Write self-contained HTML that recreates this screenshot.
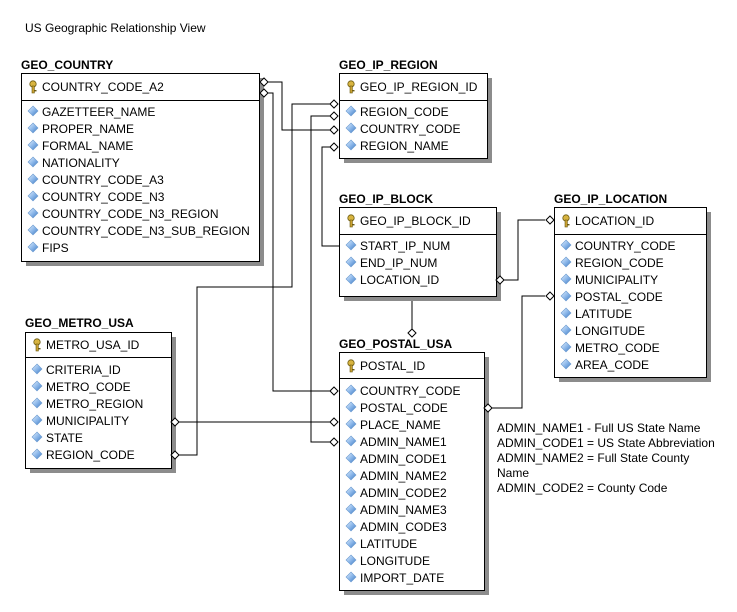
<!DOCTYPE html>
<html><head><meta charset="utf-8"><style>
html,body{margin:0;padding:0;background:#fff;}
svg{display:block;}
text{font-family:"Liberation Sans",Arial,sans-serif;font-size:12px;fill:#000;}
.t{font-weight:bold;}
</style></head><body>
<svg width="737" height="612" viewBox="0 0 737 612" xmlns="http://www.w3.org/2000/svg">
<defs>
<linearGradient id="bg" x1="0" y1="0" x2="1" y2="1"><stop offset="0" stop-color="#e8f2ff"/><stop offset="0.5" stop-color="#8db8ea"/><stop offset="1" stop-color="#3c78c0"/></linearGradient>
<g id="di"><polygon points="0,-5 5,0 0,5 -5,0" fill="url(#bg)" stroke="#6a9ad0" stroke-width="0.6"/></g>
<g id="key"><circle cx="0" cy="-3" r="3.2" fill="#d8b440" stroke="#6b5a10" stroke-width="0.8"/><rect x="-1" y="-1" width="2.4" height="7" fill="#c9a030" stroke="#6b5a10" stroke-width="0.6"/><rect x="1" y="3" width="2.5" height="1.4" fill="#6b5a10"/></g>
<g id="od"><polygon points="-4,0 0,-4 4,0 0,4" fill="#fff" stroke="#000" stroke-width="1"/></g>
<g id="odv"><polygon points="-4,0 0,-4 4,0 0,4" fill="#fff" stroke="#000" stroke-width="1"/></g>
</defs>

<text x="25" y="32">US Geographic Relationship View</text>

<!-- connectors -->
<g fill="none" stroke="#000" stroke-width="1">
<path d="M268,82 H282 V130 H330"/>
<path d="M268,93 H273 V391 H330"/>
<path d="M330,104 H292 V287 H197 V455 H178"/>
<path d="M330,116 H311 V442 H330"/>
<path d="M330,147 H322 V246 H339"/>
<path d="M178,422 H330"/>
<path d="M504,280 H518 V220 H545"/>
<path d="M412,297 V329"/>
<path d="M492,408 H522 V296 H545"/>
</g>

<!-- GEO_COUNTRY -->
<text class="t" x="21" y="69">GEO_COUNTRY</text>
<rect x="26" y="78" width="238" height="188" fill="#8c8c8c"/>
<rect x="21.5" y="73.5" width="238" height="188" fill="#fff" stroke="#000"/>
<line x1="21.5" y1="100.5" x2="259.5" y2="100.5" stroke="#000"/>
<use href="#key" x="33" y="87"/><text x="42" y="91">COUNTRY_CODE_A2</text>
<g>
<use href="#di" x="33" y="111"/><text x="42" y="116">GAZETTEER_NAME</text>
<use href="#di" x="33" y="128"/><text x="42" y="133">PROPER_NAME</text>
<use href="#di" x="33" y="145"/><text x="42" y="150">FORMAL_NAME</text>
<use href="#di" x="33" y="162"/><text x="42" y="167">NATIONALITY</text>
<use href="#di" x="33" y="179"/><text x="42" y="184">COUNTRY_CODE_A3</text>
<use href="#di" x="33" y="196"/><text x="42" y="201">COUNTRY_CODE_N3</text>
<use href="#di" x="33" y="213"/><text x="42" y="218">COUNTRY_CODE_N3_REGION</text>
<use href="#di" x="33" y="230"/><text x="42" y="235">COUNTRY_CODE_N3_SUB_REGION</text>
<use href="#di" x="33" y="247"/><text x="42" y="252">FIPS</text>
</g>

<!-- GEO_IP_REGION -->
<text class="t" x="339" y="69">GEO_IP_REGION</text>
<rect x="344" y="78" width="148" height="85" fill="#8c8c8c"/>
<rect x="339.5" y="73.5" width="148" height="85" fill="#fff" stroke="#000"/>
<line x1="339.5" y1="100.5" x2="487.5" y2="100.5" stroke="#000"/>
<use href="#key" x="351" y="87"/><text x="360" y="91">GEO_IP_REGION_ID</text>
<use href="#di" x="351" y="111"/><text x="360" y="116">REGION_CODE</text>
<use href="#di" x="351" y="128"/><text x="360" y="133">COUNTRY_CODE</text>
<use href="#di" x="351" y="145"/><text x="360" y="150">REGION_NAME</text>

<!-- GEO_IP_BLOCK -->
<text class="t" x="339" y="203">GEO_IP_BLOCK</text>
<rect x="344" y="212" width="157" height="89" fill="#8c8c8c"/>
<rect x="339.5" y="207.5" width="157" height="89" fill="#fff" stroke="#000"/>
<line x1="339.5" y1="234.5" x2="496.5" y2="234.5" stroke="#000"/>
<use href="#key" x="351" y="221"/><text x="360" y="225">GEO_IP_BLOCK_ID</text>
<use href="#di" x="351" y="245"/><text x="360" y="250">START_IP_NUM</text>
<use href="#di" x="351" y="262"/><text x="360" y="267">END_IP_NUM</text>
<use href="#di" x="351" y="279"/><text x="360" y="284">LOCATION_ID</text>

<!-- GEO_IP_LOCATION -->
<text class="t" x="554" y="203">GEO_IP_LOCATION</text>
<rect x="559" y="212" width="152" height="170" fill="#8c8c8c"/>
<rect x="554.5" y="207.5" width="152" height="170" fill="#fff" stroke="#000"/>
<line x1="554.5" y1="234.5" x2="706.5" y2="234.5" stroke="#000"/>
<use href="#key" x="566" y="221"/><text x="575" y="225">LOCATION_ID</text>
<use href="#di" x="566" y="245"/><text x="575" y="250">COUNTRY_CODE</text>
<use href="#di" x="566" y="262"/><text x="575" y="267">REGION_CODE</text>
<use href="#di" x="566" y="279"/><text x="575" y="284">MUNICIPALITY</text>
<use href="#di" x="566" y="296"/><text x="575" y="301">POSTAL_CODE</text>
<use href="#di" x="566" y="313"/><text x="575" y="318">LATITUDE</text>
<use href="#di" x="566" y="330"/><text x="575" y="335">LONGITUDE</text>
<use href="#di" x="566" y="347"/><text x="575" y="352">METRO_CODE</text>
<use href="#di" x="566" y="364"/><text x="575" y="369">AREA_CODE</text>

<!-- GEO_METRO_USA -->
<text class="t" x="25" y="327">GEO_METRO_USA</text>
<rect x="30" y="337" width="146" height="136" fill="#8c8c8c"/>
<rect x="25.5" y="332.5" width="146" height="136" fill="#fff" stroke="#000"/>
<line x1="25.5" y1="357.5" x2="171.5" y2="357.5" stroke="#000"/>
<use href="#key" x="37" y="345"/><text x="46" y="349">METRO_USA_ID</text>
<use href="#di" x="37" y="369"/><text x="46" y="374">CRITERIA_ID</text>
<use href="#di" x="37" y="386"/><text x="46" y="391">METRO_CODE</text>
<use href="#di" x="37" y="403"/><text x="46" y="408">METRO_REGION</text>
<use href="#di" x="37" y="420"/><text x="46" y="425">MUNICIPALITY</text>
<use href="#di" x="37" y="437"/><text x="46" y="442">STATE</text>
<use href="#di" x="37" y="454"/><text x="46" y="459">REGION_CODE</text>

<!-- GEO_POSTAL_USA -->
<text class="t" x="339" y="348">GEO_POSTAL_USA</text>
<rect x="344" y="357" width="145" height="238" fill="#8c8c8c"/>
<rect x="339.5" y="352.5" width="145" height="238" fill="#fff" stroke="#000"/>
<line x1="339.5" y1="378.5" x2="484.5" y2="378.5" stroke="#000"/>
<use href="#key" x="351" y="366"/><text x="360" y="370">POSTAL_ID</text>
<use href="#di" x="351" y="390"/><text x="360" y="395">COUNTRY_CODE</text>
<use href="#di" x="351" y="407"/><text x="360" y="412">POSTAL_CODE</text>
<use href="#di" x="351" y="424"/><text x="360" y="429">PLACE_NAME</text>
<use href="#di" x="351" y="441"/><text x="360" y="446">ADMIN_NAME1</text>
<use href="#di" x="351" y="458"/><text x="360" y="463">ADMIN_CODE1</text>
<use href="#di" x="351" y="475"/><text x="360" y="480">ADMIN_NAME2</text>
<use href="#di" x="351" y="492"/><text x="360" y="497">ADMIN_CODE2</text>
<use href="#di" x="351" y="509"/><text x="360" y="514">ADMIN_NAME3</text>
<use href="#di" x="351" y="526"/><text x="360" y="531">ADMIN_CODE3</text>
<use href="#di" x="351" y="543"/><text x="360" y="548">LATITUDE</text>
<use href="#di" x="351" y="560"/><text x="360" y="565">LONGITUDE</text>
<use href="#di" x="351" y="577"/><text x="360" y="582">IMPORT_DATE</text>

<!-- connector end diamonds -->
<use href="#od" x="264" y="82"/>
<use href="#od" x="264" y="93"/>
<use href="#od" x="334" y="104"/>
<use href="#od" x="334" y="116"/>
<use href="#od" x="334" y="130"/>
<use href="#od" x="334" y="147"/>
<use href="#od" x="334" y="391"/>
<use href="#od" x="334" y="422"/>
<use href="#od" x="334" y="442"/>
<use href="#od" x="175" y="422"/>
<use href="#od" x="175" y="455"/>
<use href="#od" x="500" y="280"/>
<use href="#od" x="550" y="220"/>
<use href="#od" x="550" y="296"/>
<use href="#od" x="488" y="408"/>
<use href="#odv" x="412" y="333"/>

<!-- note -->
<text x="497" y="432">ADMIN_NAME1 - Full US State Name</text>
<text x="497" y="447">ADMIN_CODE1 = US State Abbreviation</text>
<text x="497" y="462">ADMIN_NAME2 = Full State County</text>
<text x="497" y="477">Name</text>
<text x="497" y="492">ADMIN_CODE2 = County Code</text>
</svg>
</body></html>
